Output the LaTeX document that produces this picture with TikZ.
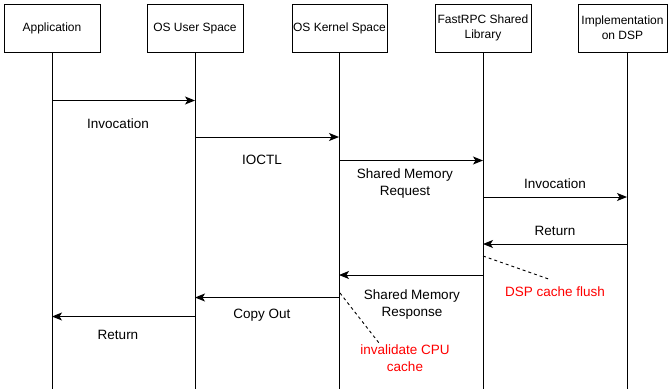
\documentclass[tikz,border=0pt]{standalone}
\usepackage{fontspec}
\setmainfont{Liberation Sans}
\usetikzlibrary{arrows.meta}
\definecolor{notered}{RGB}{255,0,0}
\tikzset{
  box/.style={draw, line width=1pt, minimum height=48pt, inner sep=1pt, align=center,
    font=\fontsize{12}{15}\selectfont},
  life/.style={line width=1pt},
  msg/.style={line width=1pt, -{Stealth[length=10pt,width=8pt,inset=2.5pt]}},
  lbl/.style={align=center, inner sep=0pt, font=\fontsize{13.5}{17}\selectfont},
  note/.style={lbl, text=notered},
  notelink/.style={line width=0.9pt, dash pattern=on 3pt off 3pt}
}
\begin{document}
\begin{tikzpicture}[x=1pt,y=-1pt]
\useasboundingbox (0,0) rectangle (670,389);
% header boxes
\node[box, minimum width=96pt, text depth=2pt] (app) at (52,28) {Application};
\node[box, minimum width=96pt, text depth=2pt] (usr) at (195,28) {OS User Space};
\node[box, minimum width=95pt, text depth=2pt] (ker) at (339.5,28) {OS Kernel Space};
\node[box, minimum width=96pt] (lib) at (483,28) {FastRPC Shared\\Library};
\node[box, minimum width=89pt] (dsp) at (622.5,28) {Implementation\\on DSP};
% lifelines
\coordinate (L1) at (52,52);  \coordinate (E1) at (52,389);
\coordinate (L2) at (195,52); \coordinate (E2) at (195,389);
\coordinate (L3) at (339,52); \coordinate (E3) at (339,389);
\coordinate (L4) at (483,52); \coordinate (E4) at (483,389);
\coordinate (L5) at (627,52); \coordinate (E5) at (627,389);
\draw[life] (L1) -- (E1);
\draw[life] (L2) -- (E2);
\draw[life] (L3) -- (E3);
\draw[life] (L4) -- (E4);
\draw[life] (L5) -- (E5);
% messages
\draw[msg] (L1 |- 0,100.5) -- (L2 |- 0,100.5);
\draw[msg] (L2 |- 0,137) -- (L3 |- 0,137);
\draw[msg] (L3 |- 0,160.5) -- (L4 |- 0,160.5);
\draw[msg] (L4 |- 0,197) -- (L5 |- 0,197);
\draw[msg] (L5 |- 0,244) -- (L4 |- 0,244);
\draw[msg] (L4 |- 0,275) -- (L3 |- 0,275);
\draw[msg] (L3 |- 0,297.5) -- (L2 |- 0,297.5);
\draw[msg] (L2 |- 0,316.5) -- (L1 |- 0,316.5);
% labels
\node[lbl] (t1) at (118,124) {Invocation};
\node[lbl] (t2) at (262,160) {IOCTL};
\node[lbl] (t3) at (405,183.5) {Shared Memory\\Request};
\node[lbl] (t4) at (555,184) {Invocation};
\node[lbl] (t5) at (555,231) {Return};
\node[lbl] (t6) at (412,305) {Shared Memory\\Response};
\node[lbl] (t7) at (262,315.5) {Copy Out};
\node[lbl] (t8) at (118,335) {Return};
% notes
\node[note] (n1) at (555,292) {DSP cache flush};
\node[note] (n2) at (405,358.5) {invalidate CPU\\cache};
\coordinate (d1s) at (483,256);
\coordinate (d1e) at (550,279.5);
\coordinate (d2s) at (340,293);
\coordinate (d2e) at (379,343);
\draw[notelink] (d1s) -- (d1e);
\draw[notelink] (d2s) -- (d2e);
\end{tikzpicture}
\end{document}
